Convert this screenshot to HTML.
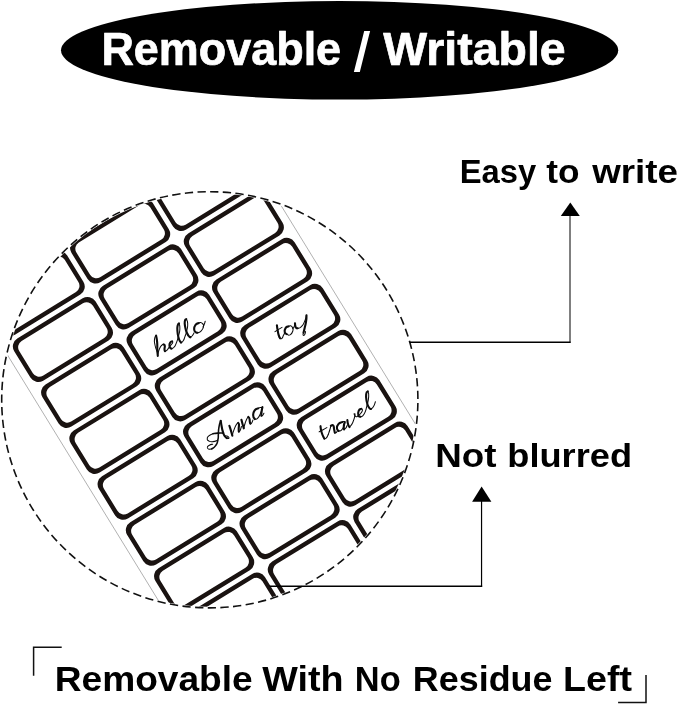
<!DOCTYPE html><html><head><meta charset="utf-8"><title>Removable / Writable</title>
<style>html,body{margin:0;padding:0;background:#fff;overflow:hidden}svg{display:block;will-change:transform}text{white-space:pre}</style></head><body>
<svg width="679" height="705" viewBox="0 0 679 705">
<rect width="679" height="705" fill="#fff"/>
<ellipse cx="339.6" cy="50.3" rx="278.6" ry="49.3" fill="#000"/>
<text transform="translate(101.38,64.60) scale(0.9901,1)" font-family="Liberation Sans, sans-serif" font-weight="bold" font-style="normal" font-size="45.4" fill="#fff" stroke="#fff" stroke-width="0.7" stroke-linejoin="round">Removable</text>
<path d="M364.2 31.1H370.1L359.8 71.9H353.9Z" fill="#fff"/>
<text transform="translate(383.15,64.60) scale(1.0240,1)" font-family="Liberation Sans, sans-serif" font-weight="bold" font-style="normal" font-size="45.4" fill="#fff" stroke="#fff" stroke-width="0.7" stroke-linejoin="round">Writable</text>
<text transform="translate(459.69,183.40) scale(0.9801,1)" font-family="Liberation Sans, sans-serif" font-weight="bold" font-style="normal" font-size="33.4" fill="#000">Easy</text>
<text transform="translate(546.27,183.40) scale(1.0555,1)" font-family="Liberation Sans, sans-serif" font-weight="bold" font-style="normal" font-size="33.4" fill="#000">to</text>
<text transform="translate(592.20,183.40) scale(1.1010,1)" font-family="Liberation Sans, sans-serif" font-weight="bold" font-style="normal" font-size="33.4" fill="#000">write</text>
<text transform="translate(435.19,467.30) scale(1.1139,1)" font-family="Liberation Sans, sans-serif" font-weight="bold" font-style="normal" font-size="33.0" fill="#000">Not</text>
<text transform="translate(507.33,467.30) scale(1.0975,1)" font-family="Liberation Sans, sans-serif" font-weight="bold" font-style="normal" font-size="33.0" fill="#000">blurred</text>
<text transform="translate(54.73,690.50) scale(1.0540,1)" font-family="Liberation Sans, sans-serif" font-weight="bold" font-style="normal" font-size="35.2" fill="#000">Removable</text>
<text transform="translate(262.30,690.50) scale(1.0712,1)" font-family="Liberation Sans, sans-serif" font-weight="bold" font-style="normal" font-size="35.2" fill="#000">With</text>
<text transform="translate(354.80,690.50) scale(0.9780,1)" font-family="Liberation Sans, sans-serif" font-weight="bold" font-style="normal" font-size="35.2" fill="#000">No</text>
<text transform="translate(412.80,690.50) scale(1.0202,1)" font-family="Liberation Sans, sans-serif" font-weight="bold" font-style="normal" font-size="35.2" fill="#000">Residue</text>
<text transform="translate(563.00,690.50) scale(1.0688,1)" font-family="Liberation Sans, sans-serif" font-weight="bold" font-style="normal" font-size="35.2" fill="#000">Left</text>
<defs><clipPath id="cc"><circle cx="209.8" cy="399.8" r="206.9"/></clipPath></defs>
<g clip-path="url(#cc)">
<g transform="translate(176.61,332.88) rotate(-31.58)">
<line x1="-155.67999999999998" y1="-400" x2="-155.67999999999998" y2="500" stroke="#9a9a9a" stroke-width="0.7"/>
<line x1="155.67999999999998" y1="-400" x2="155.67999999999998" y2="500" stroke="#9a9a9a" stroke-width="0.7"/>
<path fill="#1a1311" fill-rule="evenodd" d="M-138.68 -240.45H-61.92A9.3 9.3 0 0 1 -52.62 -231.15V-200.28A9.3 9.3 0 0 1 -61.92 -190.98H-138.68A9.3 9.3 0 0 1 -147.98 -200.28V-231.15A9.3 9.3 0 0 1 -138.68 -240.45ZM-136.29 -236.06H-64.31A7.3 7.3 0 0 1 -57.01 -228.76V-202.68A7.3 7.3 0 0 1 -64.31 -195.38H-136.29A7.3 7.3 0 0 1 -143.59 -202.68V-228.76A7.3 7.3 0 0 1 -136.29 -236.06ZM-138.68 -186.52H-61.92A9.3 9.3 0 0 1 -52.62 -177.22V-146.35A9.3 9.3 0 0 1 -61.92 -137.05H-138.68A9.3 9.3 0 0 1 -147.98 -146.35V-177.22A9.3 9.3 0 0 1 -138.68 -186.52ZM-136.29 -182.13H-64.31A7.3 7.3 0 0 1 -57.01 -174.83V-148.75A7.3 7.3 0 0 1 -64.31 -141.44H-136.29A7.3 7.3 0 0 1 -143.59 -148.75V-174.83A7.3 7.3 0 0 1 -136.29 -182.13ZM-138.68 -132.59H-61.92A9.3 9.3 0 0 1 -52.62 -123.30V-92.42A9.3 9.3 0 0 1 -61.92 -83.12H-138.68A9.3 9.3 0 0 1 -147.98 -92.42V-123.30A9.3 9.3 0 0 1 -138.68 -132.59ZM-136.29 -128.21H-64.31A7.3 7.3 0 0 1 -57.01 -120.91V-94.82A7.3 7.3 0 0 1 -64.31 -87.52H-136.29A7.3 7.3 0 0 1 -143.59 -94.82V-120.91A7.3 7.3 0 0 1 -136.29 -128.21ZM-138.68 -78.66H-61.92A9.3 9.3 0 0 1 -52.62 -69.36V-38.49A9.3 9.3 0 0 1 -61.92 -29.19H-138.68A9.3 9.3 0 0 1 -147.98 -38.49V-69.36A9.3 9.3 0 0 1 -138.68 -78.66ZM-136.29 -74.27H-64.31A7.3 7.3 0 0 1 -57.01 -66.97V-40.88A7.3 7.3 0 0 1 -64.31 -33.58H-136.29A7.3 7.3 0 0 1 -143.59 -40.88V-66.97A7.3 7.3 0 0 1 -136.29 -74.27ZM-138.68 -24.73H-61.92A9.3 9.3 0 0 1 -52.62 -15.43V15.43A9.3 9.3 0 0 1 -61.92 24.73H-138.68A9.3 9.3 0 0 1 -147.98 15.43V-15.43A9.3 9.3 0 0 1 -138.68 -24.73ZM-136.29 -20.34H-64.31A7.3 7.3 0 0 1 -57.01 -13.04V13.04A7.3 7.3 0 0 1 -64.31 20.34H-136.29A7.3 7.3 0 0 1 -143.59 13.04V-13.04A7.3 7.3 0 0 1 -136.29 -20.34ZM-138.68 29.20H-61.92A9.3 9.3 0 0 1 -52.62 38.50V69.36A9.3 9.3 0 0 1 -61.92 78.66H-138.68A9.3 9.3 0 0 1 -147.98 69.36V38.50A9.3 9.3 0 0 1 -138.68 29.20ZM-136.29 33.59H-64.31A7.3 7.3 0 0 1 -57.01 40.88V66.98A7.3 7.3 0 0 1 -64.31 74.28H-136.29A7.3 7.3 0 0 1 -143.59 66.98V40.88A7.3 7.3 0 0 1 -136.29 33.59ZM-138.68 83.12H-61.92A9.3 9.3 0 0 1 -52.62 92.42V123.30A9.3 9.3 0 0 1 -61.92 132.59H-138.68A9.3 9.3 0 0 1 -147.98 123.30V92.42A9.3 9.3 0 0 1 -138.68 83.12ZM-136.29 87.52H-64.31A7.3 7.3 0 0 1 -57.01 94.81V120.90A7.3 7.3 0 0 1 -64.31 128.20H-136.29A7.3 7.3 0 0 1 -143.59 120.90V94.81A7.3 7.3 0 0 1 -136.29 87.52ZM-138.68 137.06H-61.92A9.3 9.3 0 0 1 -52.62 146.36V177.22A9.3 9.3 0 0 1 -61.92 186.53H-138.68A9.3 9.3 0 0 1 -147.98 177.22V146.36A9.3 9.3 0 0 1 -138.68 137.06ZM-136.29 141.44H-64.31A7.3 7.3 0 0 1 -57.01 148.75V174.83A7.3 7.3 0 0 1 -64.31 182.13H-136.29A7.3 7.3 0 0 1 -143.59 174.83V148.75A7.3 7.3 0 0 1 -136.29 141.44ZM-138.68 190.99H-61.92A9.3 9.3 0 0 1 -52.62 200.29V231.16A9.3 9.3 0 0 1 -61.92 240.46H-138.68A9.3 9.3 0 0 1 -147.98 231.16V200.29A9.3 9.3 0 0 1 -138.68 190.99ZM-136.29 195.38H-64.31A7.3 7.3 0 0 1 -57.01 202.68V228.76A7.3 7.3 0 0 1 -64.31 236.06H-136.29A7.3 7.3 0 0 1 -143.59 228.76V202.68A7.3 7.3 0 0 1 -136.29 195.38ZM-138.68 244.91H-61.92A9.3 9.3 0 0 1 -52.62 254.21V285.08A9.3 9.3 0 0 1 -61.92 294.38H-138.68A9.3 9.3 0 0 1 -147.98 285.08V254.21A9.3 9.3 0 0 1 -138.68 244.91ZM-136.29 249.30H-64.31A7.3 7.3 0 0 1 -57.01 256.60V282.69A7.3 7.3 0 0 1 -64.31 289.99H-136.29A7.3 7.3 0 0 1 -143.59 282.69V256.60A7.3 7.3 0 0 1 -136.29 249.30ZM-138.68 298.84H-61.92A9.3 9.3 0 0 1 -52.62 308.14V339.01A9.3 9.3 0 0 1 -61.92 348.31H-138.68A9.3 9.3 0 0 1 -147.98 339.01V308.14A9.3 9.3 0 0 1 -138.68 298.84ZM-136.29 303.23H-64.31A7.3 7.3 0 0 1 -57.01 310.53V336.62A7.3 7.3 0 0 1 -64.31 343.92H-136.29A7.3 7.3 0 0 1 -143.59 336.62V310.53A7.3 7.3 0 0 1 -136.29 303.23ZM-38.38 -240.45H38.38A9.3 9.3 0 0 1 47.68 -231.15V-200.28A9.3 9.3 0 0 1 38.38 -190.98H-38.38A9.3 9.3 0 0 1 -47.68 -200.28V-231.15A9.3 9.3 0 0 1 -38.38 -240.45ZM-35.99 -236.06H35.99A7.3 7.3 0 0 1 43.29 -228.76V-202.68A7.3 7.3 0 0 1 35.99 -195.38H-35.99A7.3 7.3 0 0 1 -43.29 -202.68V-228.76A7.3 7.3 0 0 1 -35.99 -236.06ZM-38.38 -186.52H38.38A9.3 9.3 0 0 1 47.68 -177.22V-146.35A9.3 9.3 0 0 1 38.38 -137.05H-38.38A9.3 9.3 0 0 1 -47.68 -146.35V-177.22A9.3 9.3 0 0 1 -38.38 -186.52ZM-35.99 -182.13H35.99A7.3 7.3 0 0 1 43.29 -174.83V-148.75A7.3 7.3 0 0 1 35.99 -141.44H-35.99A7.3 7.3 0 0 1 -43.29 -148.75V-174.83A7.3 7.3 0 0 1 -35.99 -182.13ZM-38.38 -132.59H38.38A9.3 9.3 0 0 1 47.68 -123.30V-92.42A9.3 9.3 0 0 1 38.38 -83.12H-38.38A9.3 9.3 0 0 1 -47.68 -92.42V-123.30A9.3 9.3 0 0 1 -38.38 -132.59ZM-35.99 -128.21H35.99A7.3 7.3 0 0 1 43.29 -120.91V-94.82A7.3 7.3 0 0 1 35.99 -87.52H-35.99A7.3 7.3 0 0 1 -43.29 -94.82V-120.91A7.3 7.3 0 0 1 -35.99 -128.21ZM-38.38 -78.66H38.38A9.3 9.3 0 0 1 47.68 -69.36V-38.49A9.3 9.3 0 0 1 38.38 -29.19H-38.38A9.3 9.3 0 0 1 -47.68 -38.49V-69.36A9.3 9.3 0 0 1 -38.38 -78.66ZM-35.99 -74.27H35.99A7.3 7.3 0 0 1 43.29 -66.97V-40.88A7.3 7.3 0 0 1 35.99 -33.58H-35.99A7.3 7.3 0 0 1 -43.29 -40.88V-66.97A7.3 7.3 0 0 1 -35.99 -74.27ZM-38.38 -24.73H38.38A9.3 9.3 0 0 1 47.68 -15.43V15.43A9.3 9.3 0 0 1 38.38 24.73H-38.38A9.3 9.3 0 0 1 -47.68 15.43V-15.43A9.3 9.3 0 0 1 -38.38 -24.73ZM-35.99 -20.34H35.99A7.3 7.3 0 0 1 43.29 -13.04V13.04A7.3 7.3 0 0 1 35.99 20.34H-35.99A7.3 7.3 0 0 1 -43.29 13.04V-13.04A7.3 7.3 0 0 1 -35.99 -20.34ZM-38.38 29.20H38.38A9.3 9.3 0 0 1 47.68 38.50V69.36A9.3 9.3 0 0 1 38.38 78.66H-38.38A9.3 9.3 0 0 1 -47.68 69.36V38.50A9.3 9.3 0 0 1 -38.38 29.20ZM-35.99 33.59H35.99A7.3 7.3 0 0 1 43.29 40.88V66.98A7.3 7.3 0 0 1 35.99 74.28H-35.99A7.3 7.3 0 0 1 -43.29 66.98V40.88A7.3 7.3 0 0 1 -35.99 33.59ZM-38.38 83.12H38.38A9.3 9.3 0 0 1 47.68 92.42V123.30A9.3 9.3 0 0 1 38.38 132.59H-38.38A9.3 9.3 0 0 1 -47.68 123.30V92.42A9.3 9.3 0 0 1 -38.38 83.12ZM-35.99 87.52H35.99A7.3 7.3 0 0 1 43.29 94.81V120.90A7.3 7.3 0 0 1 35.99 128.20H-35.99A7.3 7.3 0 0 1 -43.29 120.90V94.81A7.3 7.3 0 0 1 -35.99 87.52ZM-38.38 137.06H38.38A9.3 9.3 0 0 1 47.68 146.36V177.22A9.3 9.3 0 0 1 38.38 186.53H-38.38A9.3 9.3 0 0 1 -47.68 177.22V146.36A9.3 9.3 0 0 1 -38.38 137.06ZM-35.99 141.44H35.99A7.3 7.3 0 0 1 43.29 148.75V174.83A7.3 7.3 0 0 1 35.99 182.13H-35.99A7.3 7.3 0 0 1 -43.29 174.83V148.75A7.3 7.3 0 0 1 -35.99 141.44ZM-38.38 190.99H38.38A9.3 9.3 0 0 1 47.68 200.29V231.16A9.3 9.3 0 0 1 38.38 240.46H-38.38A9.3 9.3 0 0 1 -47.68 231.16V200.29A9.3 9.3 0 0 1 -38.38 190.99ZM-35.99 195.38H35.99A7.3 7.3 0 0 1 43.29 202.68V228.76A7.3 7.3 0 0 1 35.99 236.06H-35.99A7.3 7.3 0 0 1 -43.29 228.76V202.68A7.3 7.3 0 0 1 -35.99 195.38ZM-38.38 244.91H38.38A9.3 9.3 0 0 1 47.68 254.21V285.08A9.3 9.3 0 0 1 38.38 294.38H-38.38A9.3 9.3 0 0 1 -47.68 285.08V254.21A9.3 9.3 0 0 1 -38.38 244.91ZM-35.99 249.30H35.99A7.3 7.3 0 0 1 43.29 256.60V282.69A7.3 7.3 0 0 1 35.99 289.99H-35.99A7.3 7.3 0 0 1 -43.29 282.69V256.60A7.3 7.3 0 0 1 -35.99 249.30ZM-38.38 298.84H38.38A9.3 9.3 0 0 1 47.68 308.14V339.01A9.3 9.3 0 0 1 38.38 348.31H-38.38A9.3 9.3 0 0 1 -47.68 339.01V308.14A9.3 9.3 0 0 1 -38.38 298.84ZM-35.99 303.23H35.99A7.3 7.3 0 0 1 43.29 310.53V336.62A7.3 7.3 0 0 1 35.99 343.92H-35.99A7.3 7.3 0 0 1 -43.29 336.62V310.53A7.3 7.3 0 0 1 -35.99 303.23ZM61.92 -240.45H138.68A9.3 9.3 0 0 1 147.98 -231.15V-200.28A9.3 9.3 0 0 1 138.68 -190.98H61.92A9.3 9.3 0 0 1 52.62 -200.28V-231.15A9.3 9.3 0 0 1 61.92 -240.45ZM64.31 -236.06H136.29A7.3 7.3 0 0 1 143.59 -228.76V-202.68A7.3 7.3 0 0 1 136.29 -195.38H64.31A7.3 7.3 0 0 1 57.01 -202.68V-228.76A7.3 7.3 0 0 1 64.31 -236.06ZM61.92 -186.52H138.68A9.3 9.3 0 0 1 147.98 -177.22V-146.35A9.3 9.3 0 0 1 138.68 -137.05H61.92A9.3 9.3 0 0 1 52.62 -146.35V-177.22A9.3 9.3 0 0 1 61.92 -186.52ZM64.31 -182.13H136.29A7.3 7.3 0 0 1 143.59 -174.83V-148.75A7.3 7.3 0 0 1 136.29 -141.44H64.31A7.3 7.3 0 0 1 57.01 -148.75V-174.83A7.3 7.3 0 0 1 64.31 -182.13ZM61.92 -132.59H138.68A9.3 9.3 0 0 1 147.98 -123.30V-92.42A9.3 9.3 0 0 1 138.68 -83.12H61.92A9.3 9.3 0 0 1 52.62 -92.42V-123.30A9.3 9.3 0 0 1 61.92 -132.59ZM64.31 -128.21H136.29A7.3 7.3 0 0 1 143.59 -120.91V-94.82A7.3 7.3 0 0 1 136.29 -87.52H64.31A7.3 7.3 0 0 1 57.01 -94.82V-120.91A7.3 7.3 0 0 1 64.31 -128.21ZM61.92 -78.66H138.68A9.3 9.3 0 0 1 147.98 -69.36V-38.49A9.3 9.3 0 0 1 138.68 -29.19H61.92A9.3 9.3 0 0 1 52.62 -38.49V-69.36A9.3 9.3 0 0 1 61.92 -78.66ZM64.31 -74.27H136.29A7.3 7.3 0 0 1 143.59 -66.97V-40.88A7.3 7.3 0 0 1 136.29 -33.58H64.31A7.3 7.3 0 0 1 57.01 -40.88V-66.97A7.3 7.3 0 0 1 64.31 -74.27ZM61.92 -24.73H138.68A9.3 9.3 0 0 1 147.98 -15.43V15.43A9.3 9.3 0 0 1 138.68 24.73H61.92A9.3 9.3 0 0 1 52.62 15.43V-15.43A9.3 9.3 0 0 1 61.92 -24.73ZM64.31 -20.34H136.29A7.3 7.3 0 0 1 143.59 -13.04V13.04A7.3 7.3 0 0 1 136.29 20.34H64.31A7.3 7.3 0 0 1 57.01 13.04V-13.04A7.3 7.3 0 0 1 64.31 -20.34ZM61.92 29.20H138.68A9.3 9.3 0 0 1 147.98 38.50V69.36A9.3 9.3 0 0 1 138.68 78.66H61.92A9.3 9.3 0 0 1 52.62 69.36V38.50A9.3 9.3 0 0 1 61.92 29.20ZM64.31 33.59H136.29A7.3 7.3 0 0 1 143.59 40.88V66.98A7.3 7.3 0 0 1 136.29 74.28H64.31A7.3 7.3 0 0 1 57.01 66.98V40.88A7.3 7.3 0 0 1 64.31 33.59ZM61.92 83.12H138.68A9.3 9.3 0 0 1 147.98 92.42V123.30A9.3 9.3 0 0 1 138.68 132.59H61.92A9.3 9.3 0 0 1 52.62 123.30V92.42A9.3 9.3 0 0 1 61.92 83.12ZM64.31 87.52H136.29A7.3 7.3 0 0 1 143.59 94.81V120.90A7.3 7.3 0 0 1 136.29 128.20H64.31A7.3 7.3 0 0 1 57.01 120.90V94.81A7.3 7.3 0 0 1 64.31 87.52ZM61.92 137.06H138.68A9.3 9.3 0 0 1 147.98 146.36V177.22A9.3 9.3 0 0 1 138.68 186.53H61.92A9.3 9.3 0 0 1 52.62 177.22V146.36A9.3 9.3 0 0 1 61.92 137.06ZM64.31 141.44H136.29A7.3 7.3 0 0 1 143.59 148.75V174.83A7.3 7.3 0 0 1 136.29 182.13H64.31A7.3 7.3 0 0 1 57.01 174.83V148.75A7.3 7.3 0 0 1 64.31 141.44ZM61.92 190.99H138.68A9.3 9.3 0 0 1 147.98 200.29V231.16A9.3 9.3 0 0 1 138.68 240.46H61.92A9.3 9.3 0 0 1 52.62 231.16V200.29A9.3 9.3 0 0 1 61.92 190.99ZM64.31 195.38H136.29A7.3 7.3 0 0 1 143.59 202.68V228.76A7.3 7.3 0 0 1 136.29 236.06H64.31A7.3 7.3 0 0 1 57.01 228.76V202.68A7.3 7.3 0 0 1 64.31 195.38ZM61.92 244.91H138.68A9.3 9.3 0 0 1 147.98 254.21V285.08A9.3 9.3 0 0 1 138.68 294.38H61.92A9.3 9.3 0 0 1 52.62 285.08V254.21A9.3 9.3 0 0 1 61.92 244.91ZM64.31 249.30H136.29A7.3 7.3 0 0 1 143.59 256.60V282.69A7.3 7.3 0 0 1 136.29 289.99H64.31A7.3 7.3 0 0 1 57.01 282.69V256.60A7.3 7.3 0 0 1 64.31 249.30ZM61.92 298.84H138.68A9.3 9.3 0 0 1 147.98 308.14V339.01A9.3 9.3 0 0 1 138.68 348.31H61.92A9.3 9.3 0 0 1 52.62 339.01V308.14A9.3 9.3 0 0 1 61.92 298.84ZM64.31 303.23H136.29A7.3 7.3 0 0 1 143.59 310.53V336.62A7.3 7.3 0 0 1 136.29 343.92H64.31A7.3 7.3 0 0 1 57.01 336.62V310.53A7.3 7.3 0 0 1 64.31 303.23Z"/>
</g>
<g transform="translate(148,312) scale(0.09425)" fill="none" stroke="#0c0c0c" stroke-linecap="round" stroke-linejoin="round">
<path d="M86.0 250.0C89.7 273.3 92.7 270.0 97.0 320.0C101.3 370.0 96.7 351.3 99.0 400.0C101.3 448.7 102.3 444.0 104.0 466.0" stroke-width="22.3"/>
<path d="M86.0 250.0C80.7 261.7 74.0 251.7 70.0 285.0C66.0 318.3 64.7 303.3 74.0 350.0C83.3 396.7 90.0 400.0 98.0 425.0" stroke-width="11.1"/>
<path d="M104.0 450.0C110.0 430.0 107.3 422.7 122.0 390.0C136.7 357.3 133.7 367.3 148.0 352.0C162.3 336.7 159.3 346.7 165.0 344.0" stroke-width="11.1"/>
<path d="M165.0 344.0C169.3 348.7 174.7 341.0 178.0 358.0C181.3 375.0 174.3 375.7 175.0 395.0C175.7 414.3 178.3 409.0 180.0 416.0" stroke-width="22.3"/>
<path d="M180.0 416.0C186.0 413.3 184.0 420.7 198.0 408.0C212.0 395.3 205.3 399.0 222.0 378.0C238.7 357.0 234.7 362.7 248.0 345.0C261.3 327.3 259.3 336.0 262.0 325.0C264.7 314.0 258.0 316.3 256.0 312.0" stroke-width="11.1"/>
<path d="M256.0 312.0C249.3 316.0 245.3 309.7 236.0 324.0C226.7 338.3 227.7 335.7 228.0 355.0C228.3 374.3 229.7 371.0 237.0 382.0C244.3 393.0 245.7 386.0 250.0 388.0" stroke-width="22.3"/>
<path d="M250.0 388.0C258.3 383.3 258.3 393.3 275.0 374.0C291.7 354.7 283.3 371.3 300.0 330.0C316.7 288.7 312.3 301.7 325.0 250.0C337.7 198.3 336.7 218.3 338.0 175.0C339.3 131.7 332.0 138.3 329.0 120.0" stroke-width="11.1"/>
<path d="M329.0 120.0C324.7 126.7 321.7 113.3 316.0 140.0C310.3 166.7 309.0 155.0 312.0 200.0C315.0 245.0 314.3 236.3 325.0 275.0C335.7 313.7 334.7 300.3 344.0 316.0C353.3 331.7 350.0 320.0 353.0 322.0" stroke-width="22.3"/>
<path d="M353.0 322.0C359.3 317.3 359.0 328.0 372.0 308.0C385.0 288.0 378.7 299.7 392.0 262.0C405.3 224.3 402.3 242.3 412.0 195.0C421.7 147.7 423.0 159.7 421.0 120.0C419.0 80.3 411.0 90.7 406.0 76.0" stroke-width="11.1"/>
<path d="M406.0 76.0C401.0 83.3 394.7 70.0 391.0 98.0C387.3 126.0 387.0 117.7 395.0 160.0C403.0 202.3 400.0 191.0 415.0 225.0C430.0 259.0 428.0 248.3 440.0 262.0C452.0 275.7 447.3 264.7 451.0 266.0" stroke-width="22.3"/>
<path d="M451.0 266.0C457.3 261.3 457.7 266.7 470.0 252.0C482.3 237.3 482.0 232.0 488.0 222.0" stroke-width="11.1"/>
<path d="M538.0 117.0C526.3 124.0 519.0 115.3 503.0 138.0C487.0 160.7 488.3 159.7 490.0 185.0C491.7 210.3 496.0 202.3 508.0 214.0C520.0 225.7 520.0 218.0 526.0 220.0" stroke-width="22.3"/>
<path d="M526.0 220.0C537.3 215.0 539.3 225.0 560.0 205.0C580.7 185.0 581.0 186.3 588.0 160.0C595.0 133.7 591.3 142.0 581.0 126.0C570.7 110.0 571.3 115.0 557.0 112.0C542.7 109.0 544.3 115.3 538.0 117.0" stroke-width="11.1"/>
<path d="M583.0 158.0C588.0 148.0 590.0 148.0 598.0 128.0C606.0 108.0 604.0 108.0 607.0 98.0" stroke-width="11.1"/>
</g>
<g transform="translate(262,300) scale(0.09425)" fill="none" stroke="#0c0c0c" stroke-linecap="round" stroke-linejoin="round">
<path d="M158.0 268.0C160.7 285.3 159.3 284.3 166.0 320.0C172.7 355.7 169.3 346.3 178.0 375.0C186.7 403.7 187.3 395.7 192.0 406.0" stroke-width="22.3"/>
<path d="M192.0 406.0C198.0 406.7 198.0 418.3 210.0 408.0C222.0 397.7 217.3 396.0 228.0 375.0C238.7 354.0 237.3 355.0 242.0 345.0" stroke-width="11.1"/>
<path d="M138.0 336.0C150.3 328.0 150.3 327.3 175.0 312.0C199.7 296.7 199.7 297.3 212.0 290.0" stroke-width="11.1"/>
<path d="M282.0 280.0C271.3 286.0 263.3 277.3 250.0 298.0C236.7 318.7 238.0 320.7 242.0 342.0C246.0 363.3 255.3 355.3 262.0 362.0" stroke-width="22.3"/>
<path d="M262.0 362.0C274.0 364.7 276.0 382.3 298.0 370.0C320.0 357.7 320.0 351.7 328.0 325.0C336.0 298.3 330.7 307.0 322.0 290.0C313.3 273.0 315.3 277.3 302.0 274.0C288.7 270.7 288.7 278.0 282.0 280.0" stroke-width="11.1"/>
<path d="M324.0 305.0C329.3 298.3 331.3 303.3 340.0 285.0C348.7 266.7 346.7 261.7 350.0 250.0" stroke-width="11.1"/>
<path d="M350.0 246.0C351.0 254.7 349.0 255.3 353.0 272.0C357.0 288.7 353.7 286.7 362.0 296.0C370.3 305.3 372.7 298.7 378.0 300.0" stroke-width="22.3"/>
<path d="M378.0 300.0C390.3 295.0 391.0 307.7 415.0 285.0C439.0 262.3 431.0 273.0 450.0 232.0C469.0 191.0 464.7 185.3 472.0 162.0" stroke-width="11.1"/>
<path d="M472.0 162.0C470.7 183.0 474.7 179.0 468.0 225.0C461.3 271.0 461.3 259.0 452.0 300.0C442.7 341.0 444.0 332.0 440.0 348.0" stroke-width="22.3"/>
<path d="M440.0 348.0C438.7 356.0 432.0 365.3 436.0 372.0C440.0 378.7 443.3 380.3 452.0 368.0C460.7 355.7 458.7 346.0 462.0 335.0" stroke-width="11.1"/>
</g>
<g transform="translate(200,410) scale(0.05891)" fill="none" stroke="#0c0c0c" stroke-linecap="round" stroke-linejoin="round">
<path d="M352.0 182.0C357.3 214.7 354.7 214.0 368.0 280.0C381.3 346.0 373.0 323.3 392.0 380.0C411.0 436.7 402.3 417.3 425.0 450.0C447.7 482.7 448.3 468.7 460.0 478.0" stroke-width="35.6"/>
<path d="M460.0 478.0C470.0 479.3 482.7 489.3 490.0 482.0C497.3 474.7 496.0 470.0 482.0 456.0C468.0 442.0 468.7 443.3 448.0 440.0C427.3 436.7 429.3 444.0 420.0 446.0" stroke-width="17.8"/>
<path d="M350.0 182.0C340.7 218.0 334.7 217.3 322.0 290.0C309.3 362.7 318.3 326.7 312.0 400.0C305.7 473.3 318.7 441.7 303.0 510.0C287.3 578.3 299.3 555.0 265.0 605.0C230.7 655.0 221.7 641.7 200.0 660.0" stroke-width="26.7"/>
<path d="M200.0 660.0C181.7 661.3 170.0 673.3 145.0 664.0C120.0 654.7 120.0 654.0 125.0 632.0C130.0 610.0 130.0 615.3 160.0 598.0C190.0 580.7 196.7 586.0 215.0 580.0" stroke-width="17.8"/>
<path d="M395.0 392.0C363.3 392.0 358.3 388.7 300.0 392.0C241.7 395.3 246.7 398.7 220.0 402.0" stroke-width="26.7"/>
<path d="M220.0 402.0C196.7 414.7 182.0 411.3 150.0 440.0C118.0 468.7 124.0 459.7 124.0 488.0C124.0 516.3 118.0 508.7 150.0 525.0C182.0 541.3 170.0 541.3 220.0 537.0C270.0 532.7 273.3 520.3 300.0 512.0" stroke-width="17.8"/>
</g>
<g transform="translate(226,398) scale(0.06481)" fill="none" stroke="#0c0c0c" stroke-linecap="round" stroke-linejoin="round">
<path d="M52.0 428.0C59.7 452.0 59.7 448.7 75.0 500.0C90.3 551.3 90.3 554.7 98.0 582.0" stroke-width="32.4"/>
<path d="M98.0 575.0C105.3 550.0 99.3 555.0 120.0 500.0C140.7 445.0 137.3 448.3 160.0 410.0C182.7 371.7 178.7 393.3 188.0 385.0" stroke-width="16.2"/>
<path d="M188.0 385.0C192.0 393.3 197.3 381.7 200.0 410.0C202.7 438.3 196.7 433.3 196.0 470.0C195.3 506.7 197.3 503.3 198.0 520.0" stroke-width="32.4"/>
<path d="M198.0 520.0C204.7 513.3 204.7 526.7 218.0 500.0C231.3 473.3 231.3 460.0 238.0 440.0" stroke-width="16.2"/>
<path d="M238.0 335.0C243.7 356.7 242.7 355.7 255.0 400.0C267.3 444.3 268.3 445.3 275.0 468.0" stroke-width="32.4"/>
<path d="M275.0 462.0C281.7 438.0 278.3 439.0 295.0 390.0C311.7 341.0 308.3 347.7 325.0 315.0C341.7 282.3 338.3 299.7 345.0 292.0" stroke-width="16.2"/>
<path d="M345.0 292.0C350.7 301.3 354.3 294.0 362.0 320.0C369.7 346.0 363.3 344.0 368.0 370.0C372.7 396.0 373.3 388.7 376.0 398.0" stroke-width="32.4"/>
<path d="M376.0 398.0C382.7 393.7 382.7 404.3 396.0 385.0C409.3 365.7 409.3 355.0 416.0 340.0" stroke-width="16.2"/>
<path d="M495.0 160.0C476.7 171.7 465.0 158.3 440.0 195.0C415.0 231.7 418.3 226.7 420.0 270.0C421.7 313.3 436.7 306.7 445.0 325.0" stroke-width="32.4"/>
<path d="M445.0 325.0C460.0 320.0 460.0 341.7 490.0 310.0C520.0 278.3 511.7 283.3 535.0 230.0C558.3 176.7 551.7 176.7 560.0 150.0" stroke-width="16.2"/>
<path d="M495.0 160.0C506.7 156.0 508.3 151.3 530.0 148.0C551.7 144.7 550.0 149.3 560.0 150.0" stroke-width="16.2"/>
<path d="M562.0 140.0C557.3 166.7 553.7 175.0 548.0 220.0C542.3 265.0 546.0 256.7 545.0 275.0" stroke-width="32.4"/>
<path d="M545.0 275.0C551.7 272.7 551.7 281.3 565.0 268.0C578.3 254.7 578.3 246.0 585.0 235.0" stroke-width="16.2"/>
</g>
<g transform="translate(308,380) scale(0.11782)" fill="none" stroke="#0c0c0c" stroke-linecap="round" stroke-linejoin="round">
<path d="M106.0 392.0C109.3 409.7 105.3 409.7 116.0 445.0C126.7 480.3 130.7 480.3 138.0 498.0" stroke-width="17.8"/>
<path d="M138.0 498.0C144.0 496.0 144.7 504.0 156.0 492.0C167.3 480.0 166.7 472.0 172.0 462.0" stroke-width="8.9"/>
<path d="M94.0 440.0C105.3 434.0 106.0 434.0 128.0 422.0C150.0 410.0 149.3 410.0 160.0 404.0" stroke-width="8.9"/>
<path d="M172.0 462.0C176.7 448.0 178.7 444.7 186.0 420.0C193.3 395.3 191.3 398.7 194.0 388.0" stroke-width="8.9"/>
<path d="M194.0 388.0C200.7 387.3 204.7 375.3 214.0 386.0C223.3 396.7 217.3 399.3 222.0 420.0C226.7 440.7 226.0 438.7 228.0 448.0" stroke-width="17.8"/>
<path d="M228.0 448.0C232.0 447.3 232.7 452.0 240.0 446.0C247.3 440.0 246.7 435.3 250.0 430.0" stroke-width="8.9"/>
<path d="M290.0 358.0C279.3 363.3 272.7 356.7 258.0 374.0C243.3 391.3 245.3 390.7 246.0 410.0C246.7 429.3 255.3 424.7 260.0 432.0" stroke-width="17.8"/>
<path d="M260.0 432.0C268.7 429.3 270.7 439.7 286.0 424.0C301.3 408.3 297.3 407.7 306.0 385.0C314.7 362.3 310.0 365.7 312.0 356.0" stroke-width="8.9"/>
<path d="M290.0 358.0C294.0 356.0 294.7 352.7 302.0 352.0C309.3 351.3 308.7 354.7 312.0 356.0" stroke-width="8.9"/>
<path d="M312.0 356.0C309.3 368.0 306.0 370.7 304.0 392.0C302.0 413.3 305.3 410.7 306.0 420.0" stroke-width="17.8"/>
<path d="M306.0 420.0C310.7 416.7 311.3 421.7 320.0 410.0C328.7 398.3 328.0 393.3 332.0 385.0" stroke-width="8.9"/>
<path d="M334.0 340.0C336.0 351.7 334.0 355.0 340.0 375.0C346.0 395.0 348.0 391.7 352.0 400.0" stroke-width="17.8"/>
<path d="M352.0 400.0C361.3 386.7 364.7 393.3 380.0 360.0C395.3 326.7 394.0 324.0 398.0 300.0C402.0 276.0 394.0 292.0 392.0 288.0" stroke-width="8.9"/>
<path d="M392.0 288.0C396.3 295.3 394.0 304.3 405.0 310.0C416.0 315.7 418.3 306.7 425.0 305.0" stroke-width="8.9"/>
<path d="M425.0 305.0C433.3 296.7 437.7 296.7 450.0 280.0C462.3 263.3 461.3 267.0 462.0 255.0C462.7 243.0 455.3 247.7 452.0 244.0" stroke-width="8.9"/>
<path d="M452.0 244.0C444.7 250.0 438.0 243.3 430.0 262.0C422.0 280.7 422.7 283.3 428.0 300.0C433.3 316.7 440.0 308.0 446.0 312.0" stroke-width="17.8"/>
<path d="M446.0 312.0C455.7 304.7 457.0 320.7 475.0 290.0C493.0 259.3 486.7 270.0 500.0 220.0C513.3 170.0 512.3 181.3 515.0 140.0C517.7 98.7 510.3 110.7 508.0 96.0" stroke-width="8.9"/>
<path d="M508.0 96.0C503.3 104.0 497.3 92.0 494.0 120.0C490.7 148.0 490.7 142.7 498.0 180.0C505.3 217.3 504.0 210.0 516.0 232.0C528.0 254.0 528.0 241.3 534.0 246.0" stroke-width="17.8"/>
<path d="M534.0 246.0C541.3 239.0 543.3 245.3 556.0 225.0C568.7 204.7 566.7 198.3 572.0 185.0" stroke-width="8.9"/>
</g>
</g>
<circle cx="209.8" cy="399.8" r="208.1" fill="none" stroke="#111" stroke-width="1.6" stroke-dasharray="8.3 4.394" stroke-dashoffset="9.54"/>
<path d="M409.7 342.25H570.6" stroke="#000" stroke-width="1.3" fill="none"/>
<path d="M570 342.8V215" stroke="#000" stroke-width="1" fill="none"/>
<path d="M570.3 202.6L579.8 215.9H560.8Z" fill="#000"/>
<path d="M269.6 586.15H482.2" stroke="#000" stroke-width="1.5" fill="none"/>
<path d="M481.55 586.7V501" stroke="#000" stroke-width="1.2" fill="none"/>
<path d="M481.6 486.5L491.4 501.7H472.1Z" fill="#000"/>
<path d="M33.6 675.8V647.2H61.7" stroke="#111" stroke-width="1.5" fill="none"/>
<path d="M618.1 702.6H646V675" stroke="#111" stroke-width="1.5" fill="none"/>
</svg></body></html>
